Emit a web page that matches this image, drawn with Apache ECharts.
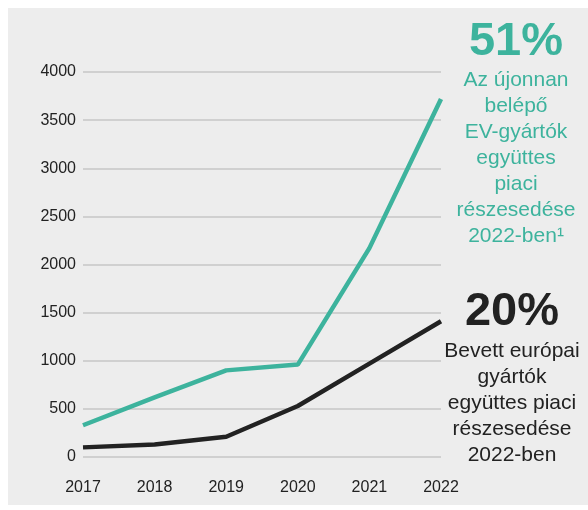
<!DOCTYPE html>
<html>
<head>
<meta charset="utf-8">
<script src="https://cdn.jsdelivr.net/npm/echarts@6/dist/echarts.min.js"></script>
<style>
  html, body { margin: 0; padding: 0; background: #fff; }
  #chart { position: absolute; left: 8px; top: 8px; width: 580px; height: 497px; background: #ededed; }
</style>
</head>
<body>
<div id="chart"></div>
<script>
var years = ['2017', '2018', '2019', '2020', '2021', '2022'];
// új belépők (zöld) és bevett európai gyártók (fekete)
var newEntrants = [330, 620, 900, 960, 2170, 3720];
var incumbents = [100, 130, 210, 530, 970, 1410];
var greenText = ['Az újonnan', 'belépő', 'EV-gyártók', 'együttes', 'piaci', 'részesedése', '2022-ben¹'];
var blackText = ['Bevett európai', 'gyártók', 'együttes piaci', 'részesedése', '2022-ben'];

var FONT = "'Liberation Sans', Arial, sans-serif";
var chart = echarts.init(document.getElementById('chart'));

var option = {
  backgroundColor: '#ededed',
  textStyle: { fontFamily: FONT },
  grid: { left: 75, right: 147, top: 64, bottom: 48 },
  xAxis: {
    type: 'category',
    data: years,
    boundaryGap: false,
    axisLine: { show: false },
    axisTick: { show: false },
    axisLabel: { color: '#222', fontSize: 16, fontFamily: FONT, margin: 23 }
  },
  yAxis: {
    type: 'value',
    min: 0,
    max: 4000,
    interval: 500,
    axisLine: { show: false },
    axisTick: { show: false },
    axisLabel: { color: '#222', fontSize: 16, fontFamily: FONT, margin: 7, formatter: function (v) { return String(v); } },
    splitLine: { lineStyle: { color: '#c6c6c6', width: 1.5 } }
  },
  series: [
    {
      type: 'line',
      data: newEntrants,
      symbol: 'none',
      lineStyle: { color: '#3db39d', width: 4.5 },
      z: 3
    },
    {
      type: 'line',
      data: incumbents,
      symbol: 'none',
      lineStyle: { color: '#222', width: 4.5 },
      z: 4
    }
  ],
  graphic: [
    {
      type: 'text',
      style: {
        x: 508, y: 34, text: '51%', fill: '#3db39d',
        font: 'bold 47px ' + FONT,
        textAlign: 'center', textVerticalAlign: 'middle'
      }
    },
    {
      type: 'text',
      style: {
        x: 508, y: 59, text: greenText.join('\n'), fill: '#3db39d',
        font: '21px ' + FONT, lineHeight: 26,
        textAlign: 'center'
      }
    },
    {
      type: 'text',
      style: {
        x: 504, y: 304, text: '20%', fill: '#222',
        font: 'bold 47px ' + FONT,
        textAlign: 'center', textVerticalAlign: 'middle'
      }
    },
    {
      type: 'text',
      style: {
        x: 504, y: 330, text: blackText.join('\n'), fill: '#222',
        font: '21px ' + FONT, lineHeight: 26,
        textAlign: 'center'
      }
    }
  ]
};

chart.setOption(option);
</script>
</body>
</html>
